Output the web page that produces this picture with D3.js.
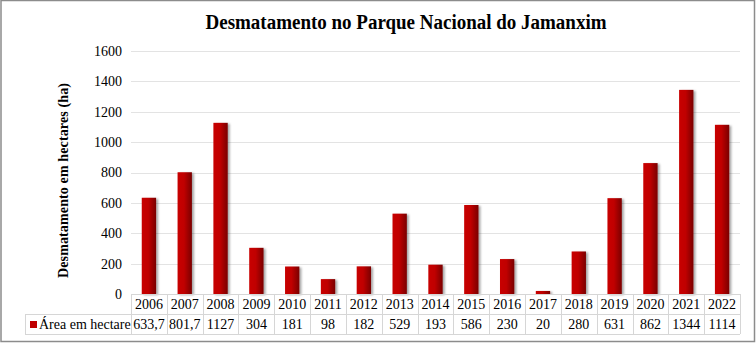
<!DOCTYPE html>
<html>
<head>
<meta charset="utf-8">
<script src="https://cdn.jsdelivr.net/npm/d3@7"></script>
<style>
  html, body { margin: 0; padding: 0; background: #fff; }
  svg { display: block; }
  svg text { font-family: "Liberation Serif", "Times New Roman", Times, serif; fill: #000; }
</style>
</head>
<body>
<div id="chart"></div>
<script>
const years = ['2006', '2007', '2008', '2009', '2010', '2011', '2012', '2013', '2014', '2015', '2016', '2017', '2018', '2019', '2020', '2021', '2022'];
const areas = [633.7, 801.7, 1127, 304, 181, 98, 182, 529, 193, 586, 230, 20, 280, 631, 862, 1344, 1114];
const areaLabels = ['633,7', '801,7', '1127', '304', '181', '98', '182', '529', '193', '586', '230', '20', '280', '631', '862', '1344', '1114'];
const yTicks = [0, 200, 400, 600, 800, 1000, 1200, 1400, 1600];
const seriesName = 'Área em hectare';
const titleText = 'Desmatamento no Parque Nacional do Jamanxim';
const yTitle = 'Desmatamento em hectares (ha)';

const W = 756, H = 344;
const plot = { left: 131, right: 740, top: 51, bottom: 294 };
const rowH = 20;
const legendLeft = 25;
const serif = '"Liberation Serif", "Times New Roman", serif';

const svg = d3.select('#chart').append('svg').attr('width', W).attr('height', H);

const defs = svg.append('defs');
const grad = defs.append('linearGradient').attr('id', 'barGrad').attr('x1', '0%').attr('x2', '100%').attr('y1', '0%').attr('y2', '0%');
grad.append('stop').attr('offset', '0%').attr('stop-color', '#c80000');
grad.append('stop').attr('offset', '45%').attr('stop-color', '#c00000');
grad.append('stop').attr('offset', '100%').attr('stop-color', '#7a0000');
const shadow = defs.append('filter').attr('id', 'shadow').attr('x', '-50%').attr('y', '-10%').attr('width', '200%').attr('height', '120%');
shadow.append('feDropShadow').attr('dx', 2).attr('dy', 1).attr('stdDeviation', 1.2).attr('flood-color', '#000').attr('flood-opacity', 0.35);

// outer frame
svg.append('rect').attr('x', 1).attr('y', 0.5).attr('width', W - 2.5).attr('height', H - 3)
  .attr('fill', '#fff').attr('stroke', '#8c8c8c').attr('stroke-width', 1.5);

svg.append('text').attr('x', 406).attr('y', 29).attr('text-anchor', 'middle').attr('font-family', serif)
  .style('font-size', '20px').style('font-weight', 'bold').attr('textLength', 401).attr('lengthAdjust', 'spacingAndGlyphs')
  .text(titleText);

const x = d3.scaleBand().domain(years).range([plot.left, plot.right]).paddingInner(0.6).paddingOuter(0.3);
const xCell = d3.scaleBand().domain(years).range([plot.left, plot.right]);
const y = d3.scaleLinear().domain([0, 1600]).range([plot.bottom, plot.top]);

// gridlines
svg.append('g').selectAll('line').data(yTicks.filter(d => d > 0)).enter().append('line')
  .attr('x1', plot.left).attr('x2', plot.right)
  .attr('y1', d => Math.round(y(d)) + 0.5).attr('y2', d => Math.round(y(d)) + 0.5)
  .attr('stroke', '#e3e3e3').attr('stroke-width', 1);

// y axis labels
const yAxis = svg.append('g').attr('transform', `translate(${plot.left - 9},0)`)
  .call(d3.axisLeft(y).tickValues(yTicks).tickSize(0).tickPadding(0).tickFormat(d3.format('d')));
yAxis.attr('font-family', serif).attr('font-size', 14);
yAxis.select('.domain').remove();
yAxis.selectAll('text').attr('font-family', serif).style('font-size', '14px').attr('fill', '#000');

svg.append('text').attr('transform', `translate(68,${(plot.top + plot.bottom) / 2 + 8}) rotate(-90)`)
  .attr('text-anchor', 'middle').attr('font-family', serif).style('font-size', '14px').style('font-weight', 'bold')
  .attr('textLength', 195).attr('lengthAdjust', 'spacing')
  .text(yTitle);

// bars
svg.append('g').selectAll('rect').data(areas).enter().append('rect')
  .attr('x', (d, i) => x(years[i]))
  .attr('width', x.bandwidth())
  .attr('y', d => y(d))
  .attr('height', d => y(0) - y(d))
  .attr('fill', 'url(#barGrad)')
  .attr('filter', 'url(#shadow)');

// data table
const tbl = svg.append('g').attr('font-family', serif);
const gridColor = '#d6d6d6';
const r1 = plot.bottom, r2 = plot.bottom + rowH, r3 = plot.bottom + 2 * rowH;
tbl.append('line').attr('x1', plot.left).attr('x2', plot.right).attr('y1', r1 + 0.5).attr('y2', r1 + 0.5).attr('stroke', gridColor);
tbl.append('line').attr('x1', legendLeft).attr('x2', plot.right).attr('y1', r2 + 0.5).attr('y2', r2 + 0.5).attr('stroke', gridColor);
tbl.append('line').attr('x1', legendLeft).attr('x2', plot.right).attr('y1', r3 + 0.5).attr('y2', r3 + 0.5).attr('stroke', gridColor);
tbl.append('line').attr('x1', legendLeft + 0.5).attr('x2', legendLeft + 0.5).attr('y1', r2).attr('y2', r3).attr('stroke', gridColor);
tbl.selectAll('line.v').data(years.concat(['end'])).enter().append('line').attr('class', 'v')
  .attr('x1', (d, i) => Math.round(i < years.length ? xCell(d) : plot.right) + 0.5)
  .attr('x2', (d, i) => Math.round(i < years.length ? xCell(d) : plot.right) + 0.5)
  .attr('y1', r1).attr('y2', r3).attr('stroke', gridColor);

tbl.selectAll('text.yr').data(years).enter().append('text').attr('class', 'yr')
  .attr('x', d => xCell(d) + xCell.bandwidth() / 2).attr('y', r1 + 15)
  .attr('text-anchor', 'middle').attr('font-family', serif).style('font-size', '14px').text(d => d);
tbl.selectAll('text.val').data(areaLabels).enter().append('text').attr('class', 'val')
  .attr('x', (d, i) => xCell(years[i]) + xCell.bandwidth() / 2).attr('y', r2 + 15)
  .attr('text-anchor', 'middle').attr('font-family', serif).style('font-size', '14px').text(d => d);

tbl.append('rect').attr('x', 30).attr('y', r2 + 7).attr('width', 7).attr('height', 7).attr('fill', '#c00000');
tbl.append('text').attr('x', 39).attr('y', r2 + 15).attr('font-family', serif).style('font-size', '14px').text(seriesName);
</script>
</body>
</html>
